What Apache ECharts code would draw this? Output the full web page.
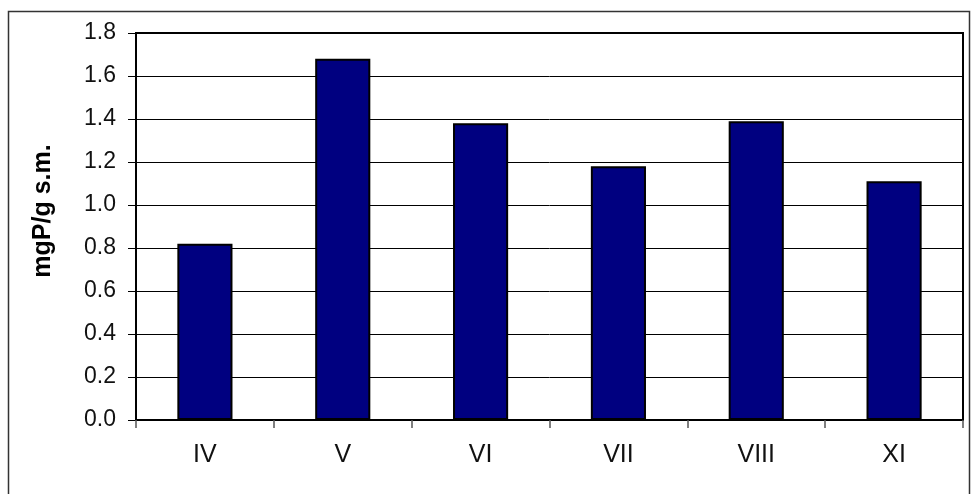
<!DOCTYPE html>
<html>
<head>
<meta charset="utf-8">
<script src="https://cdn.jsdelivr.net/npm/echarts@6/dist/echarts.min.js"></script>
<style>
  html, body { margin: 0; padding: 0; background: #fff; }
  #chart { width: 971px; height: 494px; }
</style>
</head>
<body>
<div id="chart"></div>
<script>
// Monthly phosphorus content (mgP per g dry matter)
const months = ['IV', 'V', 'VI', 'VII', 'VIII', 'XI'];
const phosphorus = [0.82, 1.68, 1.38, 1.18, 1.39, 1.11];
const yTicks = { min: 0, max: 1.8, step: 0.2 };
const yTitle = 'mgP/g s.m.';

const font = '"Liberation Sans", Arial, sans-serif';

const chart = echarts.init(document.getElementById('chart'), null, { renderer: 'canvas' });

chart.setOption({
  animation: false,
  backgroundColor: '#ffffff',
  grid: {
    left: 136, right: 8, top: 33, bottom: 74,
    show: true, borderColor: '#000', borderWidth: 2, backgroundColor: 'transparent'
  },
  xAxis: {
    type: 'category',
    data: months,
    axisLine: { lineStyle: { color: '#000', width: 2 } },
    axisTick: { show: true, alignWithLabel: false, length: 8, lineStyle: { color: '#555', width: 1.5 } },
    axisLabel: { color: '#111', fontFamily: font, fontSize: 25, margin: 23 }
  },
  yAxis: {
    type: 'value',
    min: yTicks.min, max: yTicks.max, interval: yTicks.step,
    axisLine: { show: true, lineStyle: { color: '#000', width: 2 } },
    axisTick: { show: true, length: 8, lineStyle: { color: '#000', width: 1 } },
    axisLabel: {
      color: '#111', fontFamily: font, fontSize: 23, margin: 20,
      formatter: v => v.toFixed(1)
    },
    splitLine: { show: true, lineStyle: { color: '#000', width: 1 } }
  },
  series: [{
    type: 'bar',
    data: phosphorus,
    barCategoryGap: '60%',
    itemStyle: { color: '#000080', borderColor: '#000', borderWidth: 2 }
  }],
  graphic: [
    {
      type: 'rect',
      shape: { x: 8.5, y: 11.5, width: 961, height: 500 },
      style: { fill: 'none', stroke: '#333', lineWidth: 1.5 },
      silent: true
    },
    {
      type: 'text',
      x: 43, y: 211,
      rotation: Math.PI / 2,
      style: {
        text: yTitle,
        font: 'bold 25px ' + font,
        fill: '#000',
        align: 'center',
        verticalAlign: 'middle'
      }
    }
  ]
});
</script>
</body>
</html>
